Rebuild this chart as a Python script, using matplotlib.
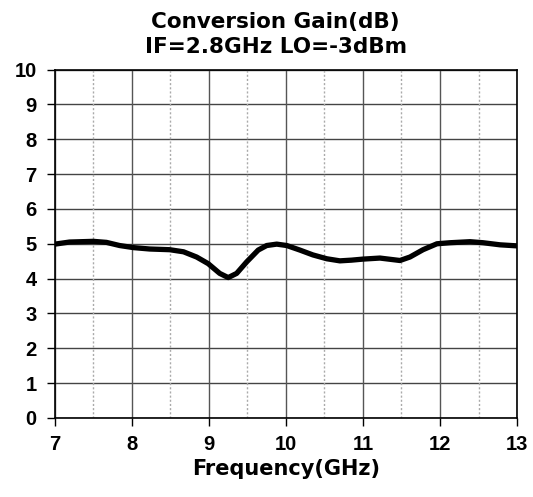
import matplotlib
matplotlib.use('Agg')
import matplotlib.pyplot as plt
import numpy as np

# frequency (GHz) and conversion gain (dB)
freq = [7.0, 7.19, 7.5, 7.67, 7.84, 8.02, 8.23, 8.49, 8.67, 8.84, 8.99, 9.14,
        9.25, 9.36, 9.49, 9.64, 9.75, 9.88, 10.01, 10.18, 10.35, 10.53, 10.7,
        10.85, 11.0, 11.22, 11.48, 11.61, 11.78, 11.96, 12.13, 12.39, 12.56,
        12.78, 13.0]
gain = [4.99, 5.05, 5.07, 5.04, 4.95, 4.89, 4.85, 4.83, 4.77, 4.62, 4.43, 4.15,
        4.03, 4.15, 4.48, 4.82, 4.95, 4.99, 4.95, 4.82, 4.68, 4.57, 4.51,
        4.53, 4.56, 4.59, 4.52, 4.62, 4.83, 5.0, 5.03, 5.06, 5.03,
        4.97, 4.94]

xticks = [7, 8, 9, 10, 11, 12, 13]
yticks = list(range(0, 11))
xhalf = [7.5, 8.5, 9.5, 10.5, 11.5, 12.5]

fig = plt.figure(figsize=(5.33, 4.97), dpi=100)
ax = fig.add_axes([0.103, 0.159, 0.867, 0.701])

# grid
for y in yticks:
    ax.axhline(y, color='#444444', lw=1.0, zorder=1)
for x in xticks:
    ax.axvline(x, color='#555555', lw=1.0, zorder=1)
for x in xhalf:
    ax.axvline(x, color='#aaaaaa', lw=1.0, ls=(0, (1.5, 1.5)), zorder=1)

ax.plot(freq, gain, color='black', lw=3.8, solid_capstyle='round',
        solid_joinstyle='round', zorder=3)

ax.set_xlim(7, 13)
ax.set_ylim(0, 10)
ax.set_xticks(xticks)
ax.set_yticks(yticks)
ax.tick_params(direction='out', length=6, width=1, colors='black',
               labelsize=14.5)
ax.tick_params(axis='y', pad=7)
ax.tick_params(axis='x', pad=6)
for lab in ax.get_xticklabels() + ax.get_yticklabels():
    lab.set_fontfamily('Liberation Sans')
    lab.set_fontweight('bold')
for s in ax.spines.values():
    s.set_color('black')
    s.set_linewidth(1.2)

ax.set_xlabel('Frequency(GHz)', fontsize=15, fontweight='bold', labelpad=4)
ax.set_title('Conversion Gain(dB)\nIF=2.8GHz LO=-3dBm', fontsize=15.5,
             fontweight='bold', pad=12, linespacing=1.3, x=0.478)

fig.savefig('out.png', dpi=100)
